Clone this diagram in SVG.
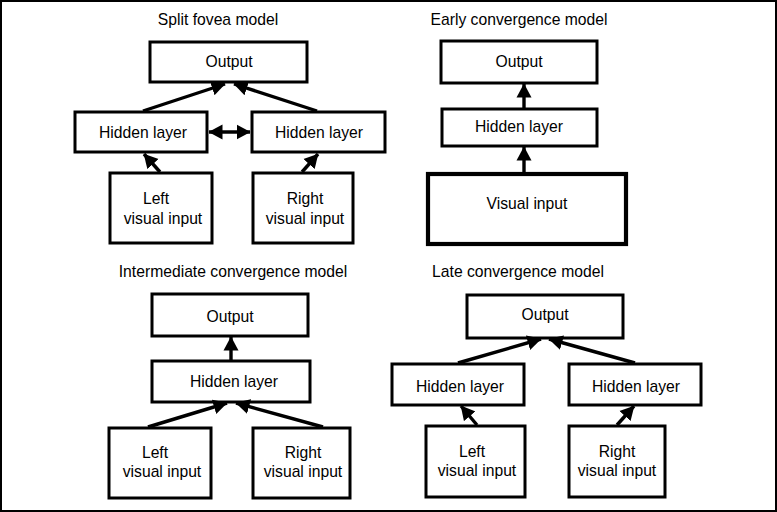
<svg xmlns="http://www.w3.org/2000/svg" width="777" height="512" viewBox="0 0 777 512">
<defs>
<style>
.box{fill:#fff;stroke:#000;stroke-width:3}
.thick{stroke-width:4.2}
text{font-family:"Liberation Sans",Arial,sans-serif;font-size:15.7px;fill:#000;text-anchor:middle}
.c line{stroke:#000;stroke-width:3.4;marker-end:url(#ah)}
</style>
<marker id="ah" markerUnits="userSpaceOnUse" markerWidth="15" markerHeight="16" refX="13.5" refY="7.5" orient="auto-start-reverse" viewBox="0 0 15 15">
<path d="M0,0 L14,7.5 L0,15 z" fill="#000"/>
</marker>
</defs>
<rect x="0" y="0" width="777" height="512" fill="#fff"/>
<rect x="1" y="1" width="775" height="510" fill="none" stroke="#000" stroke-width="2"/>

<g id="titles">
<text x="218" y="25">Split fovea model</text>
<text x="519" y="25">Early convergence model</text>
<text x="233" y="277">Intermediate convergence model</text>
<text x="518" y="277">Late convergence model</text>
</g>

<!-- Split fovea -->
<g id="sf-output"><rect class="box" x="150" y="42" width="157" height="40"/><text x="229" y="67">Output</text></g>
<g id="sf-hidden-left"><rect class="box" x="75" y="112" width="132" height="40"/><text x="143" y="138">Hidden layer</text></g>
<g id="sf-hidden-right"><rect class="box" x="252" y="112" width="133" height="40"/><text x="319" y="138">Hidden layer</text></g>
<g id="sf-input-left"><rect class="box" x="110" y="173" width="102" height="70"/><text x="156" y="204">Left</text><text x="163" y="224">visual input</text></g>
<g id="sf-input-right"><rect class="box" x="253" y="173" width="100" height="70"/><text x="305" y="204">Right</text><text x="305" y="224">visual input</text></g>

<!-- Early convergence -->
<g id="ec-output"><rect class="box" x="441" y="41" width="156" height="42"/><text x="519" y="67">Output</text></g>
<g id="ec-hidden"><rect class="box" x="442" y="109" width="155" height="37"/><text x="519" y="132">Hidden layer</text></g>
<g id="ec-input"><rect class="box thick" x="428" y="174" width="198" height="70"/><text x="527" y="209">Visual input</text></g>

<!-- Intermediate convergence -->
<g id="ic-output"><rect class="box" x="152" y="294" width="156" height="42"/><text x="230" y="322">Output</text></g>
<g id="ic-hidden"><rect class="box" x="152" y="361" width="158" height="41"/><text x="234" y="387">Hidden layer</text></g>
<g id="ic-input-left"><rect class="box" x="109" y="428" width="102" height="70"/><text x="155" y="458">Left</text><text x="162" y="477">visual input</text></g>
<g id="ic-input-right"><rect class="box" x="253" y="428" width="97" height="70"/><text x="303" y="458">Right</text><text x="303" y="477">visual input</text></g>

<!-- Late convergence -->
<g id="lc-output"><rect class="box" x="467" y="295" width="156" height="43"/><text x="545" y="320">Output</text></g>
<g id="lc-hidden-left"><rect class="box" x="392" y="364" width="132" height="41"/><text x="460" y="392">Hidden layer</text></g>
<g id="lc-hidden-right"><rect class="box" x="569" y="364" width="132" height="41"/><text x="636" y="392">Hidden layer</text></g>
<g id="lc-input-left"><rect class="box" x="426" y="426" width="99" height="71"/><text x="472" y="457">Left</text><text x="477" y="476">visual input</text></g>
<g id="lc-input-right"><rect class="box" x="569" y="426" width="96" height="71"/><text x="617" y="457">Right</text><text x="617" y="476">visual input</text></g>

<g id="connectors" class="c">
<line x1="143" y1="111" x2="225" y2="84"/>
<line x1="317" y1="111" x2="234" y2="84"/>
<line x1="209" y1="132" x2="250" y2="132" marker-start="url(#ah)"/>
<line x1="160" y1="172" x2="144" y2="154"/>
<line x1="302" y1="172" x2="318" y2="154"/>

<line x1="524" y1="109" x2="524" y2="84"/>
<line x1="524" y1="173" x2="524" y2="147"/>

<line x1="231" y1="361" x2="231" y2="337"/>
<line x1="148" y1="427" x2="227" y2="403"/>
<line x1="323" y1="427" x2="236" y2="403"/>

<line x1="458" y1="363" x2="541" y2="339"/>
<line x1="635" y1="363" x2="549" y2="339"/>
<line x1="477" y1="425" x2="461" y2="406"/>
<line x1="617" y1="425" x2="634" y2="406"/>
</g>
</svg>
